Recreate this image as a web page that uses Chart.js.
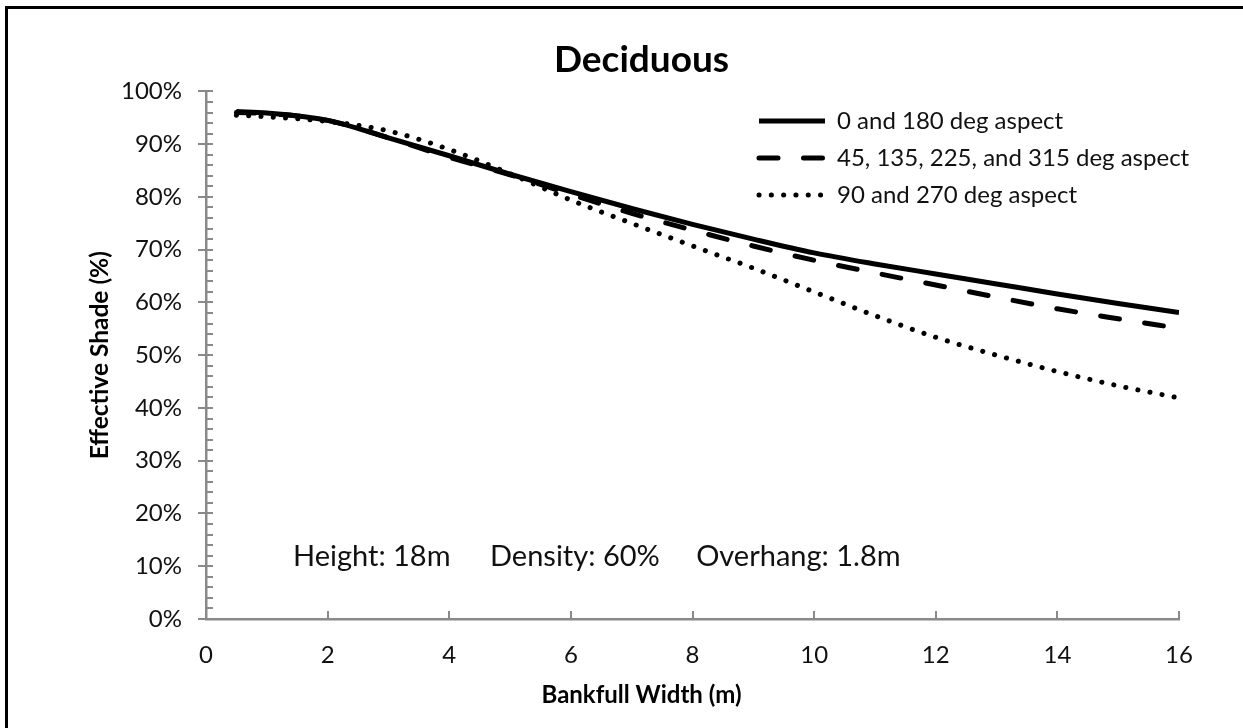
<!DOCTYPE html>
<html>
<head>
<meta charset="utf-8">
<script src="https://cdn.jsdelivr.net/npm/chart.js@4/dist/chart.umd.min.js"></script>
<style>
  html, body { margin: 0; padding: 0; background: #fff; }
  #wrap { width: 1243px; height: 728px; position: relative; }
</style>
</head>
<body>
<div id="wrap"><canvas id="c" width="1243" height="728"></canvas></div>
<script>
// ---- data ----
const bankfullWidth = [0.5, 1, 2, 3, 4, 5, 6, 7, 8, 9, 10, 11, 12, 13, 14, 15, 16];
const shadeAspect0_180 = [96.2, 95.9, 94.5, 91.2, 87.8, 84.3, 81.0, 77.8, 74.8, 72.0, 69.4, 67.3, 65.4, 63.5, 61.6, 59.8, 58.1];
const shadeAspect45 = [96.0, 95.8, 94.5, 91.2, 87.5, 84.2, 80.5, 76.9, 73.7, 70.7, 68.0, 65.6, 63.3, 61.0, 58.8, 56.9, 55.1];
const shadeAspect90_270 = [95.5, 95.2, 94.3, 92.5, 89.0, 84.4, 79.4, 75.0, 70.7, 66.5, 62.0, 57.5, 53.4, 50.0, 46.9, 44.2, 41.9];
const seriesLabels = ['0 and 180 deg aspect', '45, 135, 225, and 315 deg aspect', '90 and 270 deg aspect'];
const chartTitle = 'Deciduous';
const xTitle = 'Bankfull Width (m)';
const yTitle = 'Effective Shade (%)';
const noteTexts = ['Height: 18m', 'Density: 60%', 'Overhang: 1.8m'];
const noteX = [1.43, 4.67, 8.06];   // data-x where each note starts
const noteY = 11.9;                  // data-y of the note's centre line
const xTickMin = 0, xTickMax = 16, xStep = 2;
const yTickMin = 0, yTickMax = 100, yStep = 10, yMinorStep = 2;

const toPts = arr => arr.map((v, i) => ({ x: bankfullWidth[i], y: v }));
const FONT = 'Lato, "Open Sans", sans-serif';
const AXIS_GREY = '#898989';

const decorPlugin = {
  id: 'decor',
  afterLayout(chart) {
    const lg = chart.legend;
    if (lg) {
      const w = lg.width;
      lg.left = 746; lg.right = 746 + w;
      lg.top = 96; lg.bottom = 96 + 130;
    }
  },
  beforeDatasetsDraw(chart) {
    const { ctx, scales: { x, y }, chartArea: ca } = chart;
    ctx.save();
    ctx.strokeStyle = AXIS_GREY;
    ctx.lineWidth = 2;
    for (let v = yTickMin; v <= yTickMax + 1e-9; v += yMinorStep) {
      const py = Math.round(y.getPixelForValue(v));
      const major = Math.abs(v % yStep) < 1e-9;
      ctx.beginPath();
      ctx.moveTo(major ? ca.left - 8 : ca.left, py);
      ctx.lineTo(ca.left + 7, py);
      ctx.stroke();
    }
    for (let v = xTickMin; v <= xTickMax + 1e-9; v += xStep) {
      const px = Math.round(x.getPixelForValue(v));
      ctx.beginPath();
      ctx.moveTo(px, ca.bottom);
      ctx.lineTo(px, ca.bottom - 8);
      ctx.stroke();
    }
    ctx.fillStyle = '#111';
    ctx.font = '29px ' + FONT;
    ctx.textBaseline = 'middle';
    ctx.textAlign = 'left';
    noteTexts.forEach((t, i) => {
      ctx.fillText(t, x.getPixelForValue(noteX[i]), y.getPixelForValue(noteY));
    });
    ctx.restore();
  },
  afterDraw(chart) {
    const { ctx } = chart;
    ctx.save();
    ctx.fillStyle = '#000';
    ctx.fillRect(5, 6, 1243, 3);
    ctx.fillRect(5, 6, 3, 728);
    ctx.restore();
  }
};

new Chart(document.getElementById('c'), {
  type: 'line',
  data: {
    datasets: [
      {
        label: seriesLabels[0], data: toPts(shadeAspect0_180),
        borderColor: '#000', backgroundColor: '#000', borderWidth: 5,
        pointRadius: 0, pointStyle: 'line', cubicInterpolationMode: 'monotone',
        borderCapStyle: 'butt'
      },
      {
        label: seriesLabels[1], data: toPts(shadeAspect45),
        borderColor: '#000', backgroundColor: '#000', borderWidth: 5,
        borderDash: [19, 25.5], borderCapStyle: 'round',
        pointRadius: 0, pointStyle: 'line', cubicInterpolationMode: 'monotone'
      },
      {
        label: seriesLabels[2], data: toPts(shadeAspect90_270),
        borderColor: '#000', backgroundColor: '#000', borderWidth: 5,
        borderDash: [0.1, 12.2], borderCapStyle: 'round',
        pointRadius: 0, pointStyle: 'line', cubicInterpolationMode: 'monotone'
      }
    ]
  },
  options: {
    responsive: false,
    animation: false,
    events: [],
    layout: { padding: { left: 80, right: 40, top: 20, bottom: 0 } },
    plugins: {
      title: {
        display: true, text: chartTitle, color: '#000',
        font: { family: FONT, size: 37, weight: 'bold' },
        padding: { top: 18, bottom: 9 }
      },
      subtitle: {
        display: true, position: 'bottom', text: xTitle, color: '#000',
        font: { family: FONT, size: 24, weight: 'bold' },
        padding: { top: 0, bottom: 18 }
      },
      legend: {
        display: true, position: 'chartArea', align: 'start',
        labels: {
          usePointStyle: true, pointStyle: 'line', pointStyleWidth: 66,
          padding: 13, color: '#111',
          font: { family: FONT, size: 24 },
          generateLabels(chart) {
            const items = Chart.defaults.plugins.legend.labels.generateLabels(chart);
            items.forEach(it => {
              const ds = chart.data.datasets[it.datasetIndex];
              it.lineDash = ds.borderDash || [];
              it.lineCap = ds.borderCapStyle || 'butt';
              it.lineWidth = ds.borderWidth;
              it.strokeStyle = ds.borderColor;
              it.fillStyle = ds.borderColor;
            });
            return items;
          }
        }
      },
      tooltip: { enabled: false }
    },
    scales: {
      x: {
        type: 'linear', min: xTickMin, max: xTickMax,
        ticks: { stepSize: xStep, color: '#111', padding: 22, font: { family: FONT, size: 24 } },
        grid: { display: false, drawTicks: false },
        border: { display: true, color: AXIS_GREY, width: 2.5 },
        title: { display: false },
        afterFit(s) { s.height = 728 - 619 - (24 * 1.2 + 18); s.paddingRight = 64; }
      },
      y: {
        type: 'linear', min: yTickMin, max: yTickMax,
        ticks: { stepSize: yStep, color: '#111', padding: 24, font: { family: FONT, size: 24 }, callback: v => v + '%' },
        grid: { display: false, drawTicks: false },
        border: { display: true, color: AXIS_GREY, width: 2.5 },
        title: { display: true, text: yTitle, color: '#000', font: { family: FONT, size: 24.5, weight: 'bold' }, padding: { top: 5, bottom: 0 } },
        afterFit(s) { s.width = 206 - 80; }
      }
    }
  },
  plugins: [decorPlugin]
});
</script>
</body>
</html>
